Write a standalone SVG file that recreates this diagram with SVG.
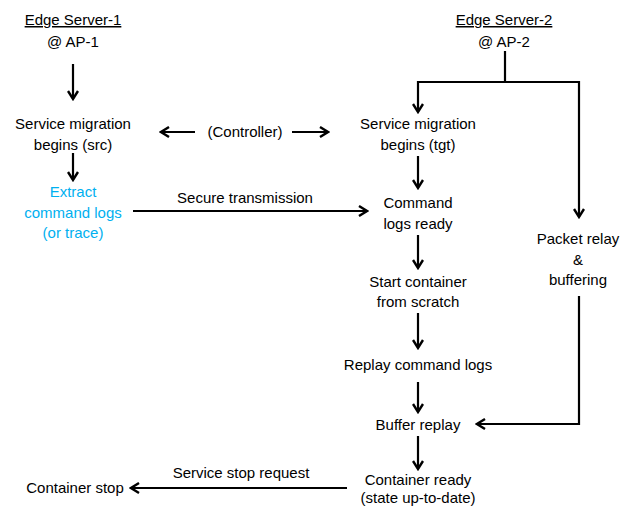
<svg xmlns="http://www.w3.org/2000/svg" width="621" height="507" viewBox="0 0 621 507">
<style>
text{font-family:"Liberation Sans",Arial,sans-serif;font-size:15px;fill:#000;text-anchor:middle}
.blue{fill:#00B0F0}
.u{text-decoration:underline}
.c{fill:none;stroke:#000;stroke-width:2.2}
</style>
<defs>
<marker id="ah" viewBox="0 0 12 12" refX="10" refY="6" markerWidth="12" markerHeight="12" markerUnits="userSpaceOnUse" orient="auto">
<path d="M2,1 L10,6 L2,11" fill="none" stroke="#000" stroke-width="2.4"/>
</marker>
</defs>
<rect width="621" height="507" fill="#fff"/>
<g id="edge1"><text x="73" y="25" class="u">Edge Server-1</text><text x="73" y="47">@ AP-1</text></g>
<g id="smsrc"><text x="73" y="129">Service migration</text><text x="73" y="150">begins (src)</text></g>
<g id="extract"><text x="73" y="197" class="blue">Extract</text><text x="73" y="218" class="blue">command logs</text><text x="73" y="238" class="blue">(or trace)</text></g>
<g id="controller"><text x="245" y="137">(Controller)</text></g>
<g id="edge2"><text x="504" y="25" class="u">Edge Server-2</text><text x="504" y="47">@ AP-2</text></g>
<g id="smtgt"><text x="418" y="129">Service migration</text><text x="418" y="150">begins (tgt)</text></g>
<g id="cmdready"><text x="418" y="208">Command</text><text x="418" y="229">logs ready</text></g>
<g id="relay"><text x="578" y="244">Packet relay</text><text x="578" y="265">&amp;</text><text x="578" y="285">buffering</text></g>
<g id="start"><text x="418" y="287">Start container</text><text x="418" y="307">from scratch</text></g>
<g id="replay"><text x="418" y="370">Replay command logs</text></g>
<g id="buffer"><text x="418" y="430">Buffer replay</text></g>
<g id="ready"><text x="418" y="485">Container ready</text><text x="418" y="503">(state up-to-date)</text></g>
<g id="stop"><text x="75" y="493">Container stop</text></g>
<g id="connectors">
<line class="c" x1="73" y1="64" x2="73" y2="99" marker-end="url(#ah)"/>
<line class="c" x1="73" y1="153" x2="73" y2="180" marker-end="url(#ah)"/>
<line class="c" x1="195" y1="132" x2="161" y2="132" marker-end="url(#ah)"/>
<line class="c" x1="292" y1="132" x2="328" y2="132" marker-end="url(#ah)"/>
<line class="c" x1="133" y1="211" x2="367" y2="211" marker-end="url(#ah)"/>
<text x="245" y="203">Secure transmission</text>
<polyline class="c" points="505,51 505,82"/>
<polyline class="c" points="418,82 579,82 579,217" marker-end="url(#ah)"/>
<line class="c" x1="418" y1="81" x2="418" y2="112" marker-end="url(#ah)"/>
<line class="c" x1="418" y1="156" x2="418" y2="188" marker-end="url(#ah)"/>
<line class="c" x1="418" y1="235" x2="418" y2="268" marker-end="url(#ah)"/>
<line class="c" x1="418" y1="313" x2="418" y2="348" marker-end="url(#ah)"/>
<line class="c" x1="418" y1="382" x2="418" y2="412" marker-end="url(#ah)"/>
<line class="c" x1="418" y1="436" x2="418" y2="469" marker-end="url(#ah)"/>
<polyline class="c" points="579,296 579,424 477,424" marker-end="url(#ah)"/>
<line class="c" x1="347" y1="488" x2="131" y2="488" marker-end="url(#ah)"/>
<text x="241" y="478">Service stop request</text>
</g>
</svg>
